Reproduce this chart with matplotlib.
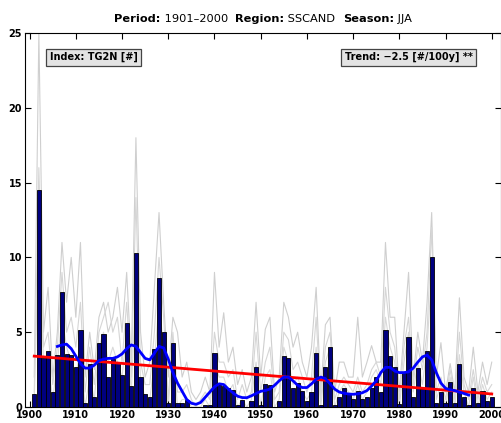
import matplotlib
matplotlib.use("Agg")
import matplotlib.pyplot as plt
import numpy as np

years = list(range(1901, 2001))
counts = [
    0.87, 14.5, 3.3, 3.75, 1.0, 3.45, 7.7, 3.55, 3.5, 2.7,
    5.15, 0.27, 2.9, 0.7, 4.3, 4.9, 2.0, 3.2, 3.0, 2.15,
    5.6, 1.4, 10.3, 2.0, 0.87, 0.65, 3.9, 8.6, 5.0, 0.27,
    4.3, 0.27, 0.27, 0.45, 0.0, 0.0, 0.0, 0.12, 0.12, 3.6,
    1.45, 1.4, 1.25, 1.15, 0.13, 0.45, 0.0, 0.4, 2.7, 0.15,
    1.55, 1.5, 0.0, 0.4, 3.4, 3.3, 1.3, 1.6, 1.1, 0.4,
    1.0, 3.6, 0.13, 2.7, 4.0, 0.15, 0.65, 1.3, 0.9, 0.55,
    1.1, 0.55, 0.7, 1.3, 2.0, 1.0, 5.15, 3.4, 2.7, 0.2,
    2.25, 4.7, 0.7, 2.6, 1.2, 3.75, 10.0, 0.25, 1.0, 0.25,
    1.7, 0.25, 2.9, 0.7, 0.15, 1.25, 0.25, 1.1, 0.4, 0.7,
]

grey_a = [
    2, 25, 5, 8, 2, 5, 11, 7, 10, 6,
    11, 2, 5, 2.5, 6, 7, 5, 6, 8, 5,
    9, 3, 18, 5, 2, 3, 8, 13, 7, 2,
    6, 5, 2, 3, 1, 0.5, 1, 2, 1, 9,
    4, 6.3, 3, 4, 1.5, 2.5, 1, 2, 7, 2,
    5.2, 6, 1, 2, 7, 6, 4, 5, 3, 2,
    4, 8, 1, 5.5, 6, 1, 3, 3, 2, 2,
    6, 2, 3, 4.1, 3, 3, 11, 6, 6, 1,
    5, 9, 2, 5, 3, 7, 13, 2, 4.3, 1,
    2.9, 1, 7.3, 2, 1, 4, 1, 3, 1.5, 3,
]

grey_b = [
    1, 16, 4, 5, 1.5, 4, 9, 5, 6, 4,
    7, 1, 4, 1.5, 5, 6, 7, 5, 6, 3,
    7, 2, 14, 3, 1.5, 1.5, 5, 10, 6, 0.5,
    5, 1, 1, 1.5, 0.5, 0, 0.5, 1, 0.5, 5,
    3, 3, 2, 2.5, 0.5, 1.5, 0.5, 1, 5, 1,
    3, 4, 0.5, 1, 5, 4.5, 2.5, 3, 2, 1,
    2, 6, 0.5, 4, 5, 0.5, 1.5, 2, 1.5, 1,
    2, 1, 1.5, 2.5, 3, 2, 8, 5, 4, 0.5,
    4, 6, 1.5, 4, 2.5, 5, 12, 1, 2, 0.5,
    2.5, 0.5, 5, 1.5, 0.5, 2.5, 0.5, 2, 1, 1.5,
]

grey_c = [
    0.5, 12, 3, 3, 0.5, 3, 6, 4, 3, 2,
    4, 0, 2, 0.5, 4, 5, 3, 4, 3, 2,
    5, 1, 8, 2, 0.5, 0.5, 3, 7, 4, 0,
    4, 0, 0.5, 0.5, 0, 0, 0, 0.5, 0, 3,
    2, 2, 1, 1.5, 0, 0.5, 0, 0.5, 3, 0,
    2, 2.5, 0, 0.5, 4, 3, 1.5, 2, 1, 0.5,
    1, 4, 0, 3, 4, 0, 1, 1.5, 1, 0.5,
    1.5, 0.5, 1, 2, 2.5, 1.5, 6, 4, 3, 0,
    3, 5, 1, 3, 1.5, 4, 9, 0.5, 1.5, 0,
    2, 0, 3.5, 1, 0, 2, 0, 1.5, 0.5, 1,
]

smooth_years = [1906, 1907, 1908, 1909, 1910, 1911, 1912, 1913, 1914, 1915,
                1916, 1917, 1918, 1919, 1920, 1921, 1922, 1923, 1924, 1925,
                1926, 1927, 1928, 1929, 1930, 1931, 1932, 1933, 1934, 1935,
                1936, 1937, 1938, 1939, 1940, 1941, 1942, 1943, 1944, 1945,
                1946, 1947, 1948, 1949, 1950, 1951, 1952, 1953, 1954, 1955,
                1956, 1957, 1958, 1959, 1960, 1961, 1962, 1963, 1964, 1965,
                1966, 1967, 1968, 1969, 1970, 1971, 1972, 1973, 1974, 1975,
                1976, 1977, 1978, 1979, 1980, 1981, 1982, 1983, 1984, 1985,
                1986, 1987, 1988, 1989, 1990, 1991, 1992, 1993, 1994, 1995]
smooth_vals = [4.05, 4.15, 4.2, 3.9, 3.4, 2.9, 2.6, 2.6, 2.8, 3.1,
               3.2, 3.25, 3.25, 3.35, 3.55, 3.9, 4.15, 4.05, 3.65, 3.25,
               3.15, 3.6, 4.05, 3.95, 3.2, 2.3, 1.6, 1.05, 0.5, 0.25,
               0.18, 0.3, 0.65, 1.0, 1.35, 1.55, 1.5, 1.2, 0.95, 0.72,
               0.63, 0.62, 0.75, 0.9, 1.05, 1.1, 1.2, 1.45, 1.75, 2.0,
               2.0, 1.75, 1.45, 1.3, 1.3, 1.55, 1.85, 2.0, 1.9, 1.55,
               1.2, 1.0, 0.92, 0.87, 0.85, 0.88, 0.95, 1.1, 1.4, 1.75,
               2.3, 2.65, 2.65, 2.4, 2.3, 2.3, 2.35, 2.6, 3.0, 3.35,
               3.47, 3.15, 2.3, 1.6, 1.25, 1.15, 1.1, 1.0, 0.9, 0.8]

trend_years = [1901, 2000]
trend_vals = [3.4, 0.87]

fig = plt.figure(figsize=(5.02, 4.23), dpi=100)
ax = fig.add_axes([25/502, 16/423, 476/502, 374/423])

ax.plot(years, grey_a, color='#cfcfcf', lw=0.8, zorder=1)
ax.plot(years, grey_b, color='#d6d6d6', lw=0.8, zorder=1)
ax.plot(years, grey_c, color='#d9d9d9', lw=0.8, zorder=1)
ax.bar(years, counts, width=0.9, color='#00007f', edgecolor='black', lw=0.6, zorder=2)
ax.plot(trend_years, trend_vals, color='red', lw=2, zorder=3)
ax.plot(smooth_years, smooth_vals, color='blue', lw=2, zorder=4)

ax.set_xlim(1899, 2002)
ax.set_ylim(0, 25)
ax.set_xticks(range(1900, 2001, 10))
ax.set_yticks(range(0, 26, 5))
ax.tick_params(direction='in', top=True, right=True, length=4, width=0.8,
               labelsize=7, pad=2)
for lab in ax.get_xticklabels() + ax.get_yticklabels():
    lab.set_fontweight('bold')
for s in ax.spines.values():
    s.set_linewidth(0.8)

bbox = dict(boxstyle='square,pad=0.35', facecolor='#e3e3e3', edgecolor='#444444', lw=0.9)
ax.text(0.052, 0.935, 'Index: TG2N [#]', transform=ax.transAxes, fontsize=7,
        fontweight='bold', va='center', ha='left', bbox=bbox, zorder=5)
ax.text(0.672, 0.935, 'Trend: \u22122.5 [#/100y] **', transform=ax.transAxes, fontsize=7,
        fontweight='bold', va='center', ha='left', bbox=bbox, zorder=5)

# Title with mixed weights
pieces = [('Period:', 'bold'), (' 1901\u20132000  ', 'normal'), ('Region:', 'bold'),
          (' SSCAND  ', 'normal'), ('Season:', 'bold'), (' JJA', 'normal')]
fig.canvas.draw()
renderer = fig.canvas.get_renderer()
texts = []
widths = []
for s, w in pieces:
    t = fig.text(0, 0, s, fontsize=8.2, fontweight=w, va='baseline', ha='left')
    bb = t.get_window_extent(renderer)
    texts.append(t)
    widths.append(bb.width)
total = sum(widths)
cx = 263
x0 = cx - total / 2
ybase = 423 - 22
for t, w in zip(texts, widths):
    t.set_transform(None)
    t.set_position((x0, ybase))
    x0 += w

fig.savefig('out.png', dpi=100)
